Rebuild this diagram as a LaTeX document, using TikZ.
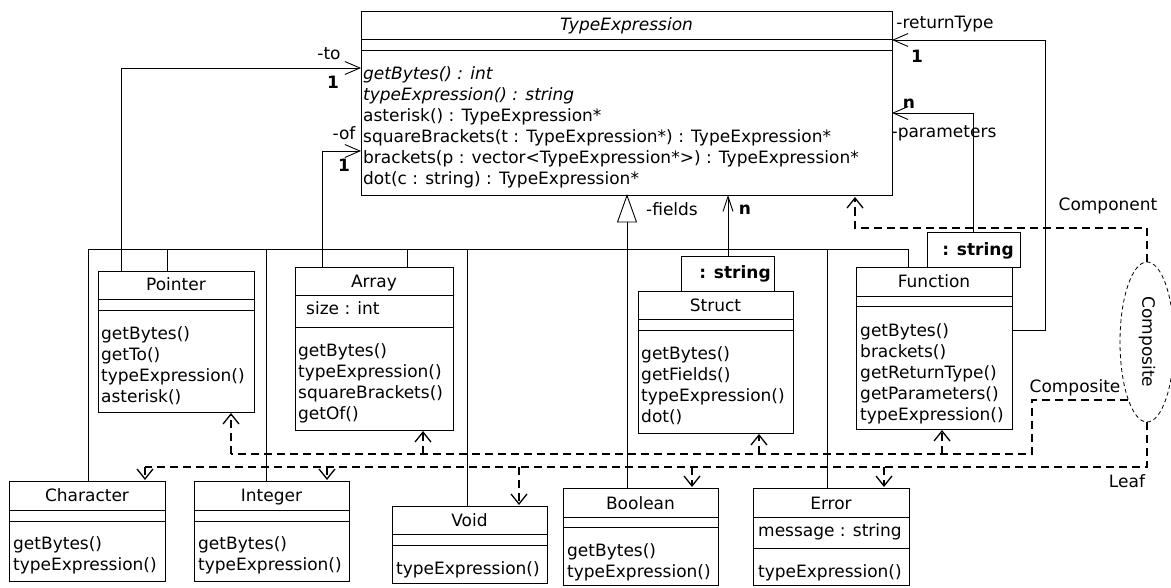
\documentclass[tikz,border=0pt]{standalone}
\usepackage{fontspec}
\setmainfont{DejaVu Sans}
\usetikzlibrary{arrows.meta,fit,shapes.geometric}
\newcommand\oplines[4]{%
  \foreach \t [count=\i from 0] in {#4} {\node[txt] (#1-\i) at (#2,#3+21*\i) {\t};}}
\begin{document}
\begin{tikzpicture}[x=1pt,y=-1pt,
  every node/.style={font=\fontsize{17}{21}\selectfont, inner sep=0pt},
  cls/.style={draw, line width=1pt, fill=white, inner sep=0pt},
  txt/.style={anchor=west, text height=13pt, text depth=4pt},
  ttl/.style={text height=13pt, text depth=4pt},
  lbl/.style={text height=12pt, text depth=3pt},
  gen/.style={line width=0.9pt},
  assoc/.style={line width=0.9pt, -{Straight Barb[length=15pt,width=13pt]}},
  role/.style={line width=2pt, dash pattern=on 8pt off 5pt},
  rolearr/.style={role, -{Straight Barb[length=10pt,width=16pt,line width=1.3pt]}},
  div/.style={line width=1pt},
]
\useasboundingbox (0,0) rectangle (1171,587);

% ---------- class boxes ----------
\node[cls, fit={(361,11) (892,195)}] (te) {};
\draw[div] (361,39) -- (892,39) (361,50) -- (892,50);
\node[ttl] (te-title) at (626.5,26) {\itshape TypeExpression};
\node[txt] (te-0) at (363,75) {\itshape getBytes() : int};
\node[txt] (te-1) at (363,96) {\itshape typeExpression() : string};
\node[txt] (te-2) at (363,117) {asterisk() : TypeExpression*};
\node[txt] (te-3) at (363,138) {squareBrackets(t : TypeExpression*) : TypeExpression*};
\node[txt] (te-4) at (363,159) {brackets(p : vector<TypeExpression*>) : TypeExpression*};
\node[txt] (te-5) at (363,180) {dot(c : string) : TypeExpression*};

\node[cls, fit={(98,271) (254,412)}] (pointer) {};
\draw[div] (98,299) -- (254,299) (98,310) -- (254,310);
\node[ttl] (pointer-title) at (176,286) {Pointer};
\oplines{pointer}{101}{335}{getBytes(),getTo(),typeExpression(),asterisk()}

\node[cls, fit={(295,267) (453,430)}] (array) {};
\draw[div] (295,295) -- (453,295) (295,327) -- (453,327);
\node[ttl] (array-title) at (374,283) {Array};
\node[txt] (array-attr) at (306,310) {size : int};
\oplines{array}{298}{352}{getBytes(),typeExpression(),squareBrackets(),getOf()}

\node[cls, fit={(681,256) (774,291)}] (struct-q) {};
\node[ttl] (struct-qt) at (735,274) {\bfseries : string};
\node[cls, fit={(638,291) (793,433)}] (struct) {};
\draw[div] (638,319) -- (793,319) (638,330) -- (793,330);
\node[ttl] (struct-title) at (715.5,307) {Struct};
\oplines{struct}{641}{355}{getBytes(),getFields(),typeExpression(),dot()}

\node[cls, fit={(927,232) (1020,267)}] (func-q) {};
\node[ttl] (func-qt) at (978,251) {\bfseries : string};
\node[cls, fit={(856,267) (1012,429)}] (func) {};
\draw[div] (856,296) -- (1012,296) (856,306) -- (1012,306);
\node[ttl] (func-title) at (934,283) {Function};
\oplines{func}{860}{332}{getBytes(),brackets(),getReturnType(),getParameters(),typeExpression()}

\node[cls, fit={(9,481) (165,581)}] (char) {};
\draw[div] (9,510) -- (165,510) (9,521) -- (165,521);
\node[ttl] (char-title) at (87,497) {Character};
\oplines{char}{13}{545}{getBytes(),typeExpression()}

\node[cls, fit={(194,481) (349,581)}] (int) {};
\draw[div] (194,510) -- (349,510) (194,521) -- (349,521);
\node[ttl] (int-title) at (271.5,497) {Integer};
\oplines{int}{198}{545}{getBytes(),typeExpression()}

\node[cls, fit={(392,506) (547,583)}] (void) {};
\draw[div] (392,534) -- (547,534) (392,545) -- (547,545);
\node[ttl] (void-title) at (469.5,522) {Void};
\oplines{void}{396}{570}{typeExpression()}

\node[cls, fit={(563,488) (718,585)}] (bool) {};
\draw[div] (563,517) -- (718,517) (563,527) -- (718,527);
\node[ttl] (bool-title) at (640.5,505) {Boolean};
\oplines{bool}{567}{552}{getBytes(),typeExpression()}

\node[cls, fit={(753,488) (909,585)}] (err) {};
\draw[div] (753,517) -- (909,517) (753,548) -- (909,548);
\node[ttl] (err-title) at (831,505) {Error};
\node[txt] (err-attr) at (758,532) {message : string};
\oplines{err}{758}{573}{typeExpression()}

% ---------- generalization tree ----------
\coordinate (tri-tip) at (627,195.5);
\coordinate (tri-l) at (617.5,222);
\coordinate (tri-r) at (636.5,222);
\coordinate (tri-b) at (627,222);
\draw[gen, fill=white] (tri-tip) -- (tri-l) -- (tri-r) -- cycle;
\draw[gen] (tri-b) -- (627,488);
\draw[gen] (88,249) -- (908,249);
\draw[gen] (88,249) -- (88,481);
\draw[gen] (167,249) -- (167,271);
\draw[gen] (266,249) -- (266,481);
\draw[gen] (407,249) -- (407,267);
\draw[gen] (467,249) -- (467,506);
\draw[gen] (827,249) -- (827,488);
\draw[gen] (908,249) -- (908,267);

% ---------- associations ----------
\coordinate (p-to) at (121,271);  \coordinate (te-to) at (361,68);
\draw[assoc] (p-to) |- (te-to);
\node[lbl] (l-to) at (329,55) {-to};
\node[lbl] (m-to) at (333,84) {\bfseries 1};

\coordinate (a-of) at (322,267);  \coordinate (te-of) at (361,151);
\draw[assoc] (a-of) |- (te-of);
\node[lbl] (l-of) at (344,135) {-of};
\node[lbl] (m-of) at (344,167) {\bfseries 1};

\coordinate (s-f) at (728,256);  \coordinate (te-f) at (728,195);
\draw[assoc, -{Straight Barb[length=15pt,width=10pt]}] (s-f) -- (te-f);
\node[lbl] (l-f) at (672,211) {-fields};
\node[lbl] (m-f) at (745,210) {\bfseries n};

\coordinate (f-par) at (973,232);  \coordinate (te-par) at (892,113);
\draw[assoc] (f-par) |- (te-par);
\node[lbl] (m-par) at (909,104) {\bfseries n};
\node[lbl] (l-par) at (944,133) {-parameters};

\coordinate (f-ret) at (1012,330);  \coordinate (te-ret) at (892,40);
\draw[assoc] (f-ret) -- (1045,330) |- (te-ret);
\node[lbl] (l-ret) at (945,24) {-returnType};
\node[lbl] (m-ret) at (917,58) {\bfseries 1};

% ---------- collaboration ----------
\node[draw, dashed, dash pattern=on 4pt off 3pt, line width=0.8pt, ellipse,
      minimum width=160pt, minimum height=54pt, rotate=-90] (collab) at (1147,342) {Composite};

\coordinate (c-top) at (1147,262);
\coordinate (c-left) at (1128,400);
\coordinate (c-bot) at (1147,422);

\draw[role] (c-top) -- (1147,228) -- (855,228) -- (855,215);
\draw[rolearr] (855,215) -- (855,197);
\node[lbl] (l-comp) at (1108,206) {Component};

\draw[role] (c-left) -- (1032,400) -- (1032,454) -- (231,454);
\draw[rolearr] (231,454) -- (231,413);
\draw[rolearr] (423,454) -- (423,431);
\draw[rolearr] (759,454) -- (759,434);
\draw[rolearr] (942,454) -- (942,430);
\node[lbl] (l-cmp) at (1075,388) {Composite};

\draw[role] (c-bot) -- (1147,467) -- (145,467);
\draw[rolearr] (145,467) -- (145,480);
\draw[rolearr] (327,467) -- (327,480);
\draw[rolearr] (519,467) -- (519,505);
\draw[rolearr] (692,467) -- (692,487);
\draw[rolearr] (884,467) -- (884,487);
\node[lbl] (l-leaf) at (1127,483) {Leaf};
\end{tikzpicture}
\end{document}
